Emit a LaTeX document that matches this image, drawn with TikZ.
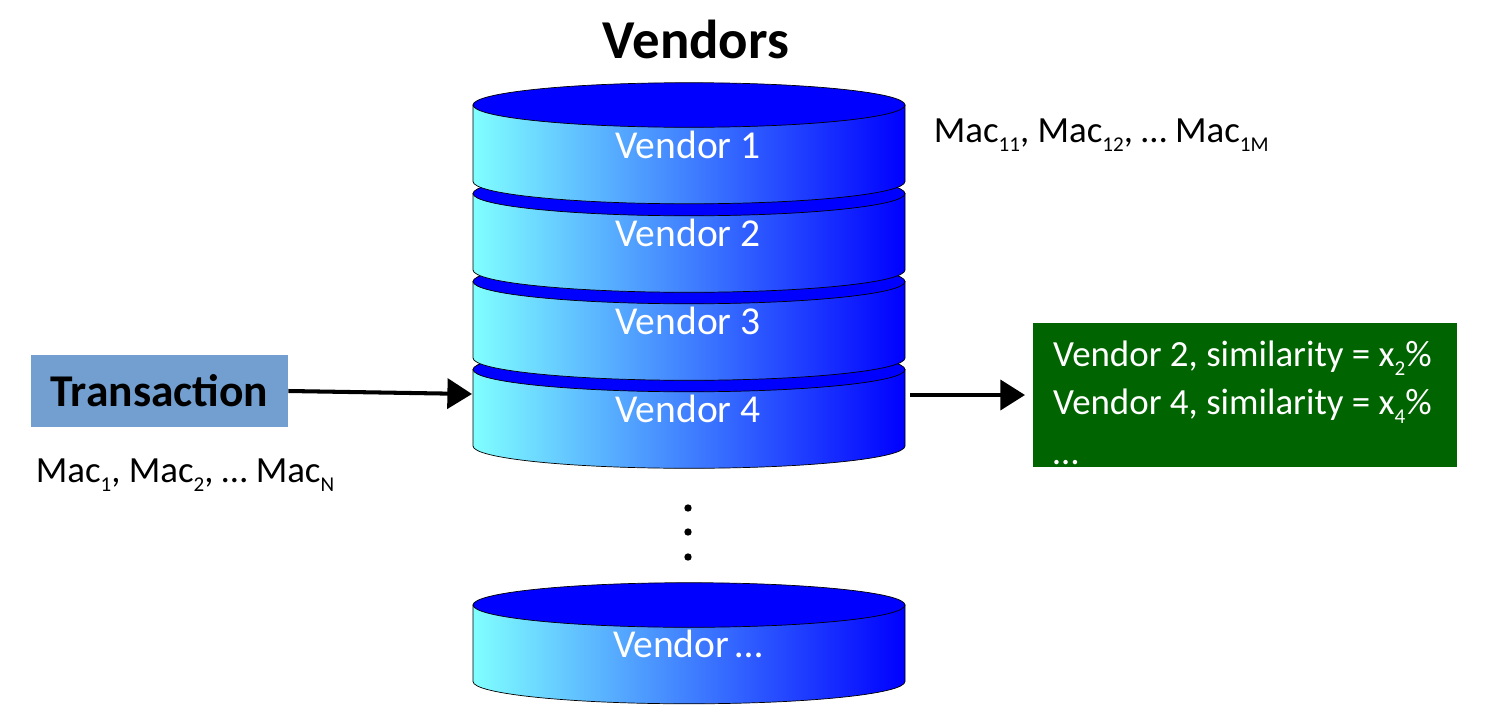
\documentclass[tikz,border=0pt]{standalone}
\usepackage{fontspec}
\setmainfont{Carlito}
\usetikzlibrary{arrows.meta}
\definecolor{diskblue}{RGB}{0,0,255}
\definecolor{diskcyan}{RGB}{128,255,255}
\definecolor{transblue}{RGB}{114,159,207}
\definecolor{resultgreen}{RGB}{0,100,0}
\newcommand{\lowidx}[1]{\raisebox{-5.2pt}{\fontsize{12}{13}\selectfont #1}}
\tikzset{
  disktext/.style={text=white,font=\fontsize{22.5}{24}\selectfont,inner sep=0pt},
  mactext/.style={font=\fontsize{21}{24}\selectfont,inner sep=0pt,anchor=west},
  bigarrow/.style={line width=2.3pt,-{Triangle[length=14pt,width=17pt]}},
  stackdot/.style={circle,fill=black,inner sep=0pt,minimum size=4.2pt}
}
\begin{document}
\begin{tikzpicture}[x=0.02cm,y=-0.02cm]
  \useasboundingbox (0,0) rectangle (1488,727);

  % title
  \node[inner sep=0pt,font=\bfseries\fontsize{31.2}{33}\selectfont] (title) at (696,39.5) {Vendors};

  % disks, drawn from the bottom up
  \foreach \name/\ypos/\laby/\lbl in {vendorN/605/644/Vendor\hspace{-1.5pt} …,vendor4/369.5/409/Vendor 4,vendor3/281.5/321/Vendor 3,vendor2/193.5/233/Vendor 2,vendor1/105/145/Vendor 1} {
    \path[draw=black,line width=0.4pt,left color=diskcyan,right color=diskblue]
      (473,\ypos) -- ++(0,76.5) arc[start angle=180,end angle=0,x radius=216,y radius=22.3] -- ++(0,-76.5) -- cycle;
    \path[draw=black,line width=0.4pt,fill=diskblue] (689,\ypos) ellipse[x radius=216,y radius=22.3];
    \node[disktext] (\name) at (688,\laby) {\lbl};
  }

  % dots between the disks
  \node[stackdot] (dota) at (688,508) {};
  \node[stackdot] (dotb) at (688,532) {};
  \node[stackdot] (dotc) at (688,557) {};

  % left side
  \node[fill=transblue,minimum width=146.3pt,minimum height=41pt,inner sep=0pt,
    font=\bfseries\fontsize{25.9}{28}\selectfont] (transaction) at (159.5,391) {\raisebox{-0.6pt}{Transaction}};
  \node[mactext] (macin) at (35.5,475) {Mac\lowidx{1}, Mac\lowidx{2}, … Mac\lowidx{N}};
  \node[mactext] (macvendor) at (933.5,135) {Mac\lowidx{11}, Mac\lowidx{12}, … Mac\lowidx{1M}};

  % right side
  \node[fill=resultgreen,text=white,anchor=north west,minimum width=241.3pt,minimum height=82pt,
    inner xsep=0pt,inner ysep=0pt,align=left,
    font=\fontsize{21}{27.3}\selectfont] (result) at (1033,323)
    {\rule{0pt}{22.6pt}Vendor 2, similarity = x\lowidx{2}\%\hspace*{3.3pt}\\Vendor 4, similarity = x\lowidx{4}\%\\[1.2pt]…};

  % arrows
  \coordinate (stackin) at (472,394);
  \coordinate (stackout) at (910,395);
  \coordinate (resultin) at (1025,395);
  \draw[bigarrow] (transaction.east) -- (stackin);
  \draw[bigarrow] (stackout) -- (resultin);

\end{tikzpicture}
\end{document}
